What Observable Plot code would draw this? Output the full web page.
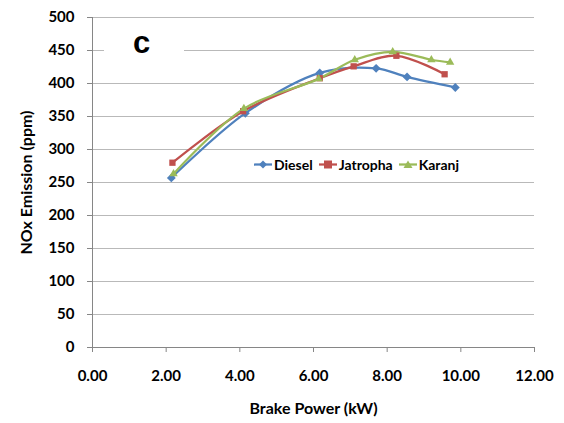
<!DOCTYPE html>
<html>
<head>
<meta charset="utf-8">
<script src="https://cdn.jsdelivr.net/npm/d3@7"></script>
<script src="https://cdn.jsdelivr.net/npm/@observablehq/plot@0.6"></script>
<style>
  html, body { margin: 0; padding: 0; background: #fff; }
  #wrap { position: relative; width: 564px; height: 423px; font-family: Lato, "Open Sans", sans-serif; }
  #panel { position: absolute; left: 104px; top: 30px; width: 80px; height: 34px; background: #fff; }
  #panel span { position: absolute; left: 29px; top: -5px; font: bold 31px "Liberation Sans", Arial, sans-serif; color: #000; }
  #legend { position: absolute; left: 254px; top: 156px; display: flex; align-items: center; font-weight: bold; font-size: 14px; color: #000; white-space: nowrap; }
  #legend .item { display: flex; align-items: center; margin-right: 6px; }
  #legend svg { margin-right: 2px; }
</style>
</head>
<body>
<div id="wrap"></div>
<script>
// Data
const seriesNames = ["Diesel", "Jatropha", "Karanj"];
const seriesColors = ["#4F81BD", "#C0504D", "#9BBB59"];
const seriesSymbols = ["diamond2", "square2", "triangle2"];

const dieselPower = [2.14, 4.15, 6.17, 7.70, 8.54, 9.85];
const dieselNOx   = [257, 355, 416, 423, 410, 394];

const jatrophaPower = [2.17, 4.09, 6.17, 7.09, 8.25, 9.56];
const jatrophaNOx   = [280, 358, 408, 426, 442, 414];

const karanjPower = [2.20, 4.11, 6.14, 7.12, 8.15, 9.20, 9.71];
const karanjNOx   = [263, 362, 407, 436, 448, 436, 432];

const xTicks = [0, 2, 4, 6, 8, 10, 12];
const yTicks = [0, 50, 100, 150, 200, 250, 300, 350, 400, 450, 500];

const rows = [];
const addSeries = (name, xs, ys) => xs.forEach((x, i) => rows.push({series: name, power: x, nox: ys[i]}));
addSeries("Diesel", dieselPower, dieselNOx);
addSeries("Jatropha", jatrophaPower, jatrophaNOx);
addSeries("Karanj", karanjPower, karanjNOx);

const axisColor = "#868686";
const gridColor = "#b9b9b9";

const chart = Plot.plot({
  width: 564,
  height: 423,
  marginLeft: 92,
  marginRight: 30,
  marginTop: 17,
  marginBottom: 76,
  style: {fontFamily: "Lato, 'Open Sans', sans-serif", fontWeight: "bold", fontSize: "15px", color: "#000", background: "#fff"},
  x: {domain: [0, 12]},
  y: {domain: [0, 500]},
  color: {domain: seriesNames, range: seriesColors},
  symbol: {domain: seriesNames, range: seriesSymbols},
  marks: [
    Plot.ruleY(yTicks.filter(d => d > 0), {stroke: gridColor, strokeWidth: 1}),
    Plot.ruleX([0], {stroke: axisColor}),
    Plot.ruleY([0], {stroke: axisColor}),
    Plot.axisY({ticks: yTicks, tickSize: 5, tickPadding: 13, stroke: axisColor, fill: "#000", fontSize: 15, label: null}),
    Plot.axisY({ticks: [], tickSize: 0, label: "NOx Emission (ppm)", labelAnchor: "center", labelArrow: "none", labelOffset: 72, fontSize: 16, fill: "#000"}),
    Plot.axisX({ticks: xTicks, tickSize: 5, tickPadding: 18, stroke: axisColor, fill: "#000", fontSize: 15,
      tickFormat: d => d.toFixed(2), label: null}),
    Plot.axisX({ticks: [], tickSize: 0, label: "Brake Power (kW)", labelAnchor: "center", labelArrow: "none", labelOffset: 66, fontSize: 16, fill: "#000"}),
    Plot.line(rows, {x: "power", y: "nox", z: "series", stroke: "series", strokeWidth: 2.25, curve: "catmull-rom"}),
    Plot.dot(rows, {x: "power", y: "nox", fill: "series", symbol: "series", r: 4, stroke: "none"})
  ]
});

const wrap = document.getElementById("wrap");
wrap.appendChild(chart);

const panel = document.createElement("div");
panel.id = "panel";
panel.innerHTML = "<span>c</span>";
wrap.appendChild(panel);

// Legend
const legend = document.createElement("div");
legend.id = "legend";
const symPaths = {
  diamond2: "M9 1.5 L13 5.5 L9 9.5 L5 5.5 Z",
  square2: "M5 1.5 H13 V9.5 H5 Z",
  triangle2: "M9 1.5 L13.5 9 L4.5 9 Z"
};
seriesNames.forEach((name, i) => {
  const item = document.createElement("div");
  item.className = "item";
  item.innerHTML = `<svg width="18" height="11"><line x1="0" x2="18" y1="5.5" y2="5.5" stroke="${seriesColors[i]}" stroke-width="2.25"/><path d="${symPaths[seriesSymbols[i]]}" fill="${seriesColors[i]}"/></svg><span>${name}</span>`;
  legend.appendChild(item);
});
wrap.appendChild(legend);
</script>
</body>
</html>
